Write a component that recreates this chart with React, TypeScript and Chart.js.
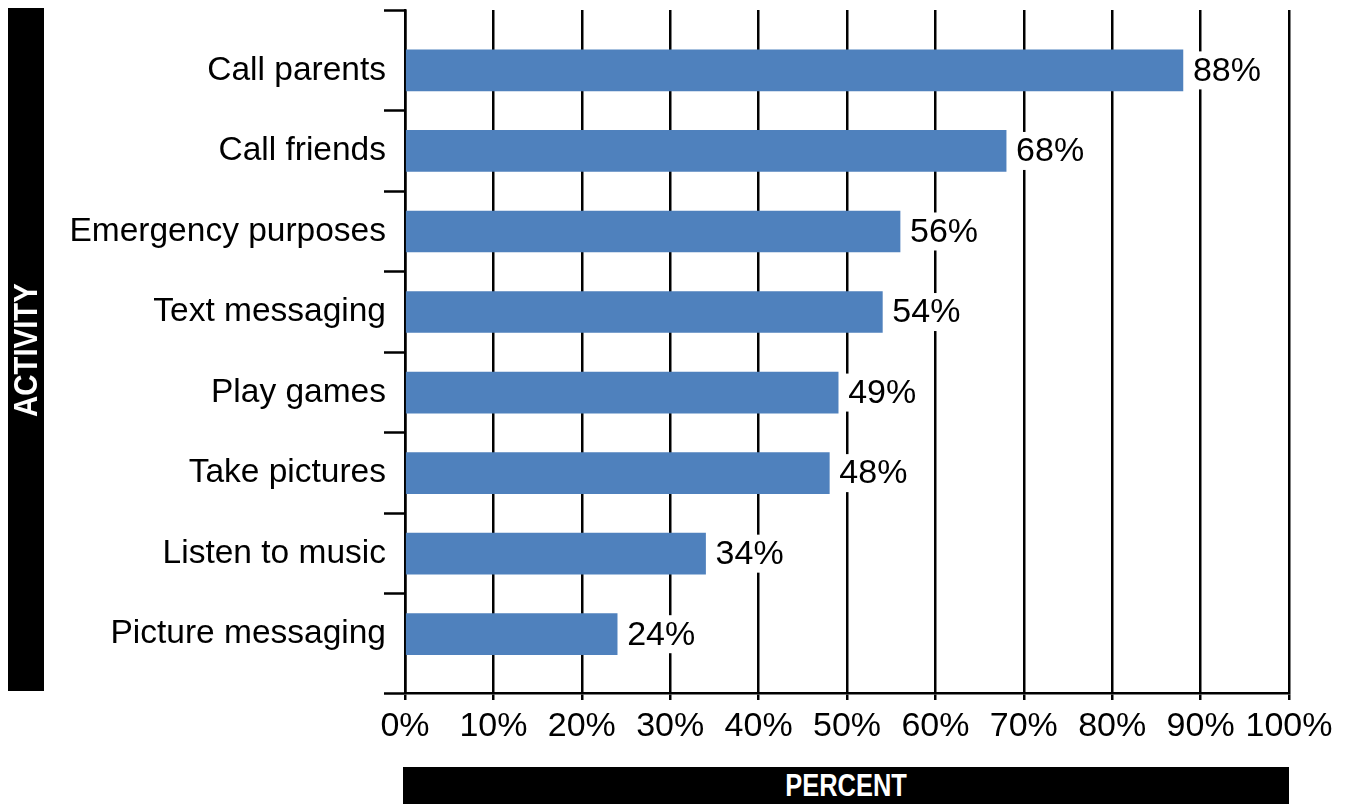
import React, { useEffect, useRef } from 'react';
import { Chart, registerables } from 'chart.js';

Chart.register(...registerables);

// ---- data ----
const CATEGORIES = [
  'Call parents',
  'Call friends',
  'Emergency purposes',
  'Text messaging',
  'Play games',
  'Take pictures',
  'Listen to music',
  'Picture messaging',
];
const PERCENTS = [88, 68, 56, 54, 49, 48, 34, 24];
const X_TICK_VALUES = [0, 10, 20, 30, 40, 50, 60, 70, 80, 90, 100];
const X_TITLE = 'PERCENT';
const Y_TITLE = 'ACTIVITY';

const FONT = "'Liberation Sans', Arial, sans-serif";
const BAR_COLOR = '#4F81BD';
const LINE_W = 2.5;

const Y_MIN = -0.75;
const Y_MAX = CATEGORIES.length - 1 + 0.73;

const valueLabelPlugin = {
  id: 'valueLabels',
  afterDatasetsDraw(chart: any) {
    const ctx = chart.ctx;
    const meta = chart.getDatasetMeta(0);
    ctx.save();
    ctx.font = `34px ${FONT}`;
    ctx.textBaseline = 'middle';
    ctx.textAlign = 'left';
    meta.data.forEach((bar: any, i: number) => {
      const text = `${PERCENTS[i]}%`;
      const w = ctx.measureText(text).width;
      const x = bar.x + 10;
      ctx.fillStyle = '#ffffff';
      ctx.fillRect(x - 3, bar.y - 19, w + 6, 38);
      ctx.fillStyle = '#000000';
      ctx.fillText(text, x, bar.y + 1);
    });
    ctx.restore();
  },
};

export default function App() {
  const canvasRef = useRef<HTMLCanvasElement | null>(null);

  useEffect(() => {
    if (!canvasRef.current) return;
    const chart = new Chart(canvasRef.current, {
      type: 'bar',
      data: {
        datasets: [
          {
            data: PERCENTS.map((v, i) => ({ x: v, y: i })),
            backgroundColor: BAR_COLOR,
            borderWidth: 0,
            barThickness: 41,
          },
        ],
      },
      plugins: [valueLabelPlugin],
      options: {
        indexAxis: 'y',
        animation: false,
        responsive: false,
        layout: { padding: { top: 10, left: 0, right: 56, bottom: 0 } },
        plugins: {
          legend: { display: false },
          tooltip: { enabled: false },
        },
        scales: {
          x: {
            type: 'linear',
            position: 'bottom',
            min: 0,
            max: 100,
            offset: false,
            afterBuildTicks: (scale: any) => {
              scale.ticks = X_TICK_VALUES.map((v) => ({ value: v }));
            },
            afterFit: (scale: any) => {
              scale.height = 804 - 693;
              scale.paddingLeft = 0;
              scale.paddingRight = 0;
            },
            grid: {
              offset: false,
              color: '#000000',
              lineWidth: LINE_W,
              drawTicks: true,
              tickLength: 7,
              tickColor: '#000000',
              tickWidth: LINE_W,
            },
            border: { display: true, color: '#000000', width: LINE_W },
            ticks: {
              color: '#000000',
              font: { family: FONT, size: 34 },
              padding: 6,
              maxRotation: 0,
              autoSkip: false,
              callback: (v: any) => `${v}%`,
            },
          },
          y: {
            type: 'linear',
            position: 'left',
            reverse: true,
            min: Y_MIN,
            max: Y_MAX,
            offset: false,
            afterBuildTicks: (scale: any) => {
              const vals: number[] = [Y_MIN, Y_MAX];
              CATEGORIES.forEach((_, i) => {
                vals.push(i);
                if (i > 0) vals.push(i - 0.5);
              });
              vals.sort((a, b) => a - b);
              scale.ticks = vals.map((v) => ({ value: v }));
            },
            afterFit: (scale: any) => {
              scale.width = 405;
              scale.paddingTop = 0;
              scale.paddingBottom = 0;
            },
            grid: {
              offset: false,
              drawOnChartArea: false,
              drawTicks: true,
              tickLength: 21,
              tickWidth: LINE_W,
              tickColor: (ctx: any) =>
                ctx.tick && Number.isInteger(ctx.tick.value) ? 'rgba(0,0,0,0)' : '#000000',
            },
            border: { display: true, color: '#000000', width: LINE_W },
            ticks: {
              color: '#000000',
              font: { family: FONT, size: 33.5 },
              padding: -2,
              autoSkip: false,
              callback: (v: any) => (Number.isInteger(v) ? CATEGORIES[v] : ''),
            },
          },
        },
      },
    } as any);
    return () => chart.destroy();
  }, []);

  return (
    <div
      style={{
        position: 'absolute',
        left: 0,
        top: 0,
        width: 1345,
        height: 804,
        overflow: 'hidden',
        background: '#ffffff',
      }}
    >
      <canvas
        ref={canvasRef}
        width={1345}
        height={804}
        style={{ position: 'absolute', left: 0, top: 0, width: 1345, height: 804 }}
      />
      <div
        style={{
          position: 'absolute',
          left: 8,
          top: 8,
          width: 36,
          height: 683,
          background: '#000000',
        }}
      >
        <span
          style={{
            position: 'absolute',
            left: '50%',
            top: '50%',
            transform: 'translate(-50%, -50%) rotate(-90deg) scaleX(0.89)',
            color: '#ffffff',
            fontFamily: FONT,
            fontWeight: 'bold',
            fontSize: 33,
            lineHeight: '36px',
            whiteSpace: 'nowrap',
          }}
        >
          {Y_TITLE}
        </span>
      </div>
      <div
        style={{
          position: 'absolute',
          left: 403,
          top: 767,
          width: 886,
          height: 37,
          background: '#000000',
          textAlign: 'center',
        }}
      >
        <span
          style={{
            display: 'inline-block',
            transform: 'scaleX(0.82)',
            color: '#ffffff',
            fontFamily: FONT,
            fontWeight: 'bold',
            fontSize: 31,
            lineHeight: '38px',
            whiteSpace: 'nowrap',
          }}
        >
          {X_TITLE}
        </span>
      </div>
    </div>
  );
}
